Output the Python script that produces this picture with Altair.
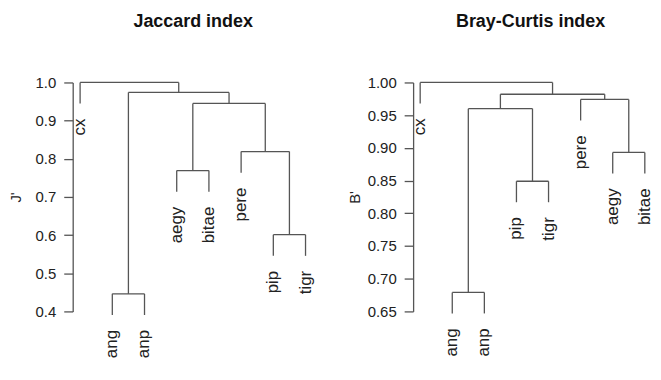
import altair as alt
import pandas as pd

# Jaccard dendrogram (leaf order left to right)
jac_labels = ["cx", "ang", "anp", "aegy", "bitae", "pere", "pip", "tigr"]
# merges: negative = leaf (1-based position), positive = earlier merge (1-based)
jac_merge = [[-7, -8], [-2, -3], [-4, -5], [-6, 1], [3, 4], [2, 5], [-1, 6]]
jac_height = [0.601, 0.446, 0.769, 0.819, 0.945, 0.974, 1.0]
jac_ticks = [0.4, 0.5, 0.6, 0.7, 0.8, 0.9, 1.0]

# Bray-Curtis dendrogram
bc_labels = ["cx", "ang", "anp", "pip", "tigr", "pere", "aegy", "bitae"]
bc_merge = [[-2, -3], [-4, -5], [-7, -8], [1, 2], [-6, 3], [4, 5], [-1, 6]]
bc_height = [0.679, 0.849, 0.893, 0.960, 0.974, 0.982, 1.0]
bc_ticks = [0.65, 0.70, 0.75, 0.80, 0.85, 0.90, 0.95, 1.00]

LINE = "#555555"
FONT = "Liberation Sans"


def build(labels, merge, height, hang_frac=0.1):
    hang = hang_frac * (max(height) - min(height))
    centers = {}
    segs = []
    leaves = []
    for i, (a, b) in enumerate(merge, start=1):
        h = height[i - 1]
        xs = []
        for c in (a, b):
            if c < 0:
                x = -c
                bottom = h - hang
                leaves.append({"x": x, "y": bottom, "label": labels[x - 1]})
            else:
                x = centers[c]
                bottom = height[c - 1]
            segs.append({"x": x, "x2": x, "y": h, "y2": bottom})
            xs.append(x)
        segs.append({"x": xs[0], "x2": xs[1], "y": h, "y2": h})
        centers[i] = (xs[0] + xs[1]) / 2
    return pd.DataFrame(segs), pd.DataFrame(leaves)


def panel(labels, merge, height, ticks, ydom, xdom, width, title, ytitle, fmt,
          title_pad):
    segs, leaves = build(labels, merge, height)
    xs = alt.Scale(domain=xdom, nice=False, zero=False)
    ys = alt.Scale(domain=ydom, nice=False, zero=False)
    lines = alt.Chart(segs).mark_rule(color=LINE, strokeWidth=1.3).encode(
        x=alt.X("x:Q", scale=xs, axis=None),
        x2="x2:Q",
        y=alt.Y("y:Q", scale=ys, axis=alt.Axis(
            values=ticks, tickCount=20, format=fmt, title=ytitle, grid=False,
            labelOverlap=False, labelFlush=False,
            domainColor=LINE, tickColor=LINE, domainWidth=1.3, tickWidth=1.3,
            tickSize=9, labelPadding=8, titlePadding=title_pad,
            labelFontSize=15, labelColor="#222", labelFont=FONT,
            titleFontSize=15, titleFont=FONT, titleFontWeight="normal",
            titleColor="#222")),
        y2="y2:Q",
    )
    text = alt.Chart(leaves).mark_text(
        angle=270, align="right", baseline="middle", dx=-15,
        fontSize=17, font=FONT, color="#222"
    ).encode(
        x=alt.X("x:Q", scale=xs, axis=None),
        y=alt.Y("y:Q", scale=ys),
        text="label:N",
    )
    return alt.layer(lines, text).properties(
        width=width, height=230,
        title=alt.TitleParams(title, fontSize=18, fontWeight="bold", font=FONT,
                              anchor="middle", offset=45, color="#111"),
    )


left = panel(jac_labels, jac_merge, jac_height, jac_ticks, [0.4, 1.0],
             [0.77, 8.25], 242, "Jaccard index", "J'", ".1f", 12)
right = panel(bc_labels, bc_merge, bc_height, bc_ticks, [0.65, 1.0],
              [0.78, 8.1], 236, "Bray-Curtis index", "B'", ".2f", 5)

chart = alt.hconcat(left, right, spacing=33).properties(
    padding={"left": 0, "top": 4, "right": 0, "bottom": 0}
).configure(background="white").configure_view(stroke=None)

chart.save("out.html", embed_options={"renderer": "svg", "actions": False})
